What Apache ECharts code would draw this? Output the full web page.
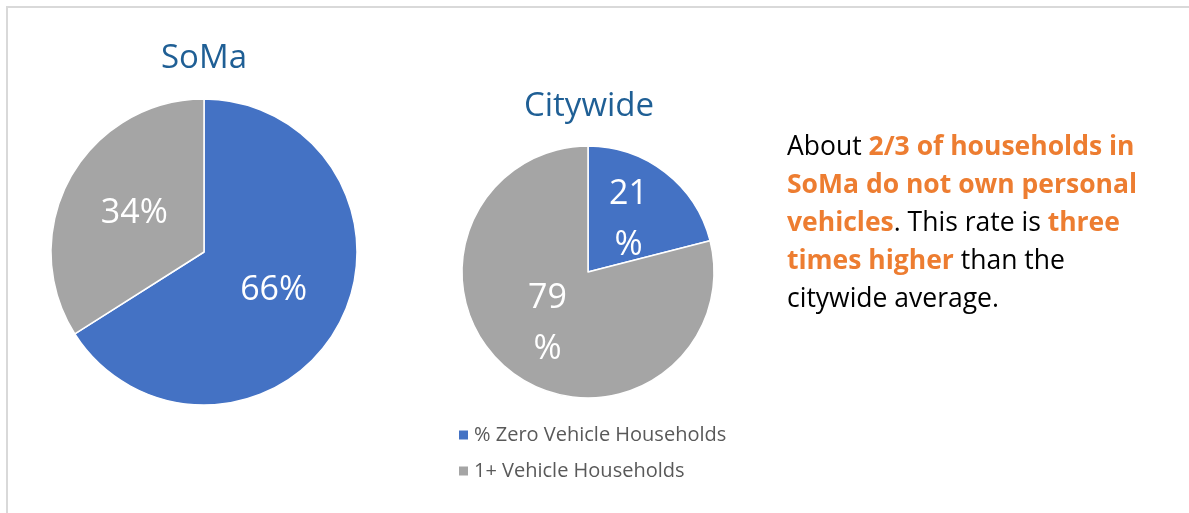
<!DOCTYPE html>
<html>
<head>
<meta charset="utf-8">
<script src="https://cdn.jsdelivr.net/npm/echarts@6/dist/echarts.min.js"></script>
<style>
    html, body { margin: 0; padding: 0; background: #fff; }
    #frame { position: absolute; left: 6px; top: 6px; width: 1183px; height: 507px;
             border-top: 2px solid #d9d9d9; border-left: 2px solid #d9d9d9; box-sizing: border-box; }
    #chart { position: absolute; left: 0; top: 0; width: 1189px; height: 513px; }
</style>
</head>
<body>
<div id="frame"></div>
<div id="chart"></div>
<script>
const categories = ['% Zero Vehicle Households', '1+ Vehicle Households'];
const somaValues = [66, 34];
const cityValues = [21, 79];
const titles = ['SoMa', 'Citywide'];
const colors = ['#4472C4', '#A5A5A5'];

function toData(values) {
    return categories.map((name, i) => ({ name: name, value: values[i] }));
}

const font = 'Open Sans';

echarts.init(document.getElementById('chart')).setOption({
    animation: false,
    color: colors,
    title: [
        {
            text: titles[0],
            left: 199, top: 37, textAlign: 'center',
            textStyle: { color: '#1F5F95', fontSize: 33, fontWeight: 'normal', fontFamily: font }
        },
        {
            text: titles[1],
            left: 584, top: 85, textAlign: 'center',
            textStyle: { color: '#1F5F95', fontSize: 33, fontWeight: 'normal', fontFamily: font }
        }
    ],
    legend: {
        orient: 'vertical',
        left: 452,
        top: 420,
        itemWidth: 11,
        itemHeight: 11,
        itemGap: 16,
        icon: 'rect',
        data: categories,
        textStyle: { color: '#595959', fontSize: 20, fontFamily: font }
    },
    series: [
        {
            name: titles[0],
            type: 'pie',
            center: [204, 252],
            radius: 153,
            startAngle: 90,
            clockwise: true,
            data: toData(somaValues),
            itemStyle: { borderColor: '#fff', borderWidth: 1.5 },
            label: {
                position: 'inside',
                formatter: '{c}%',
                color: '#fff',
                fontSize: 34,
                fontFamily: font
            },
            labelLine: { show: false }
        },
        {
            name: titles[1],
            type: 'pie',
            center: [588, 272],
            radius: 126,
            startAngle: 90,
            clockwise: true,
            data: toData(cityValues),
            itemStyle: { borderColor: '#fff', borderWidth: 1.5 },
            label: {
                position: 'inside',
                formatter: '{c}\n%',
                color: '#fff',
                fontSize: 34,
                lineHeight: 51,
                fontFamily: font
            },
            labelLine: { show: false }
        }
    ],
    graphic: [
        {
            type: 'text',
            left: 787,
            top: 134,
            style: {
                text: '{n|About }{o|2/3 of households in}\n{o|SoMa do not own personal}\n{o|vehicles}{n|. This rate is }{o|three}\n{o|times higher}{n| than the}\n{n|citywide average.}',
                rich: {
                    n: { fontSize: 26.5, fontFamily: font, fill: '#000', lineHeight: 38 },
                    o: { fontSize: 26.5, fontFamily: font, fill: '#ED7D31', fontWeight: 'bold', lineHeight: 38 }
                }
            }
        }
    ]
});
</script>
</body>
</html>
